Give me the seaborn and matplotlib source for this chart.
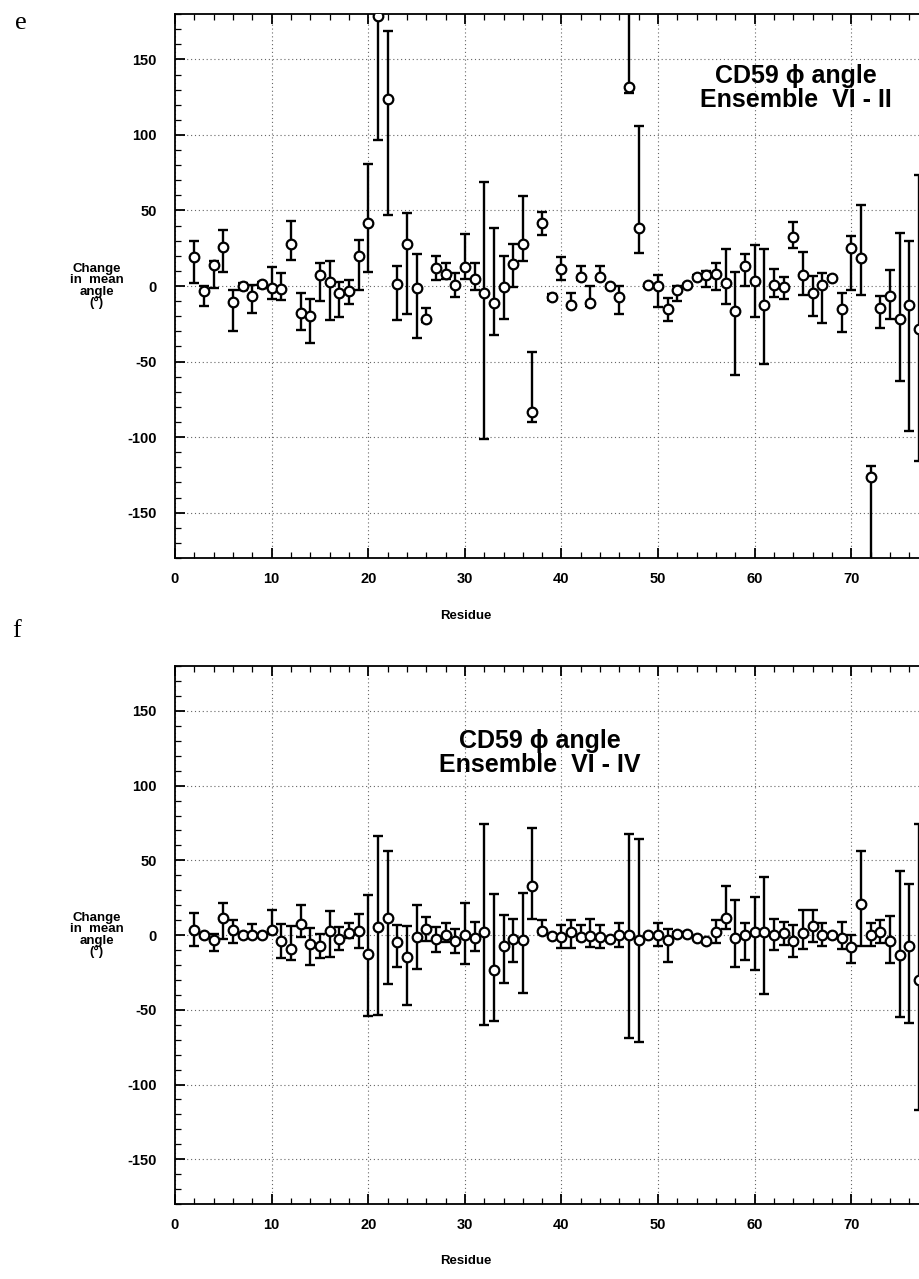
import numpy as np
import pandas as pd
import matplotlib
matplotlib.use("Agg")
import matplotlib.pyplot as plt
import seaborn as sns

# ---------------- data ----------------
residues = list(range(2, 78))

# Panel e : Ensemble VI - II  (value, bar bottom, bar top)
e_val = [19, -3, 14, 26, -10.6, -0.2, -6.9, 1.1, -1.1, -2, 27.7, -17.9, -19.5, 7.1, 2.7,
         -4.7, -3.5, 19.9, 41.9, 178.5, 123.6, 1.6, 27.7, -1.1, -22, 12, 7.8, 0.4, 12.6,
         4.4, -4.4, -11.3, -0.7, 14.4, 27.5, -83.1, 41.9, -7.3, 11.5, -12.4, 6, -11.3, 6,
         -0.2, -7.3, 132, 38.3, 0.7, 0, -15.3, -2.7, 0.4, 6.2, 7.3, 8, 2.2, -16.6, 13.5,
         3.5, -12.6, 0.7, -0.9, 32.3, 7.3, -4.4, 0.7, 5.5, -15.5, 25, 18.4, -126.7, -14.4,
         -6.6, -21.5, -12.6, -28.1]
e_low = [2.3, -13.5, -1, 9.3, -29.9, -2.5, -17.7, -1, -8.4, -9.5, 17.1, -28.8, -37.9, -10,
         -22.8, -20.6, -11.7, -2.4, 9.4, 96.6, 47.2, -22.4, -18.8, -34.6, -24, 4.2, 4.7,
         -7.3, 4.7, -2.9, -101.3, -32.1, -21.7, -0.7, 16.4, -89.9, 34.1, -9, 3.8, -13.5,
         3.8, -13.5, 3.8, -1.5, -18.4, 128, 21.7, -0.5, -13.7, -23, -10, -0.5, 5, -0.4,
         -2.7, -12, -59.1, 0, -20.8, -51.4, -7.1, -8.9, 25, -6, -19.9, -24.4, 4.5, -30.3,
         -2.7, -6, -200, -27.7, -21.5, -63.1, -95.7, -115.6]
e_high = [30, 0, 16.5, 37, -2.9, 2, 0.4, 3, 12.6, 8.6, 43.2, -4.7, -8.4, 15.3, 16.4, 2.7,
          3.8, 30.8, 80.9, 200, 169, 13.1, 48.5, 21, -14.6, 19.7, 15.3, 8.6, 34.3, 15.3,
          68.6, 38.5, 19.7, 28.1, 59.3, -43.9, 49.2, -5.5, 19.3, -4.7, 13.1, -0.2, 13, 1,
          0, 200, 105.9, 1.5, 7.3, -8.2, 0, 1.5, 7.5, 10.2, 15.5, 24.4, 9.5, 21.3, 27.2,
          24.4, 11.3, 6.2, 42.7, 22.8, 6.6, 8.9, 6.5, -4.4, 33.2, 53.8, -118.9, -6.4, 10.6,
          35, 29.5, 73.8]

# Panel f : Ensemble VI - IV  (value, bar bottom, bar top)
f_val = [3.3, 0, -3.3, 11.1, 3.1, 0, 0, 0, 3.1, -4, -9.6, 7.1, -6.2, -7.3, 2.7, -2.4, 1.1,
         2.7, -12.4, 5.6, 11.6, -4.7, -14.5, -1, 4.4, -2.9, 0, -4, 0, -2.2, 1.8, -23.5,
         -7.5, -2.5, -3.4, 32.7, 2.9, -0.4, -1.1, 1.8, -1.1, -0.4, -1.1, -2.9, 0, 0, -3.1,
         0, 0, -3.6, 0.9, 0.9, -1.8, -4, 2, 11.1, -1.8, 0, 2.2, 2.2, 0, 1.1, -4, 1.1, 6, 0,
         0, -2.2, -8, 20.9, 0, 2, -4, -13.3, -7.4, -30.2]
f_low = [-7.3, -1, -10.7, -2.9, -5.1, -1, -1, -1, 0.4, -15.1, -16.9, -1.3, -20, -15.1,
         -14.4, -10.2, -1.8, -8.4, -53.9, -53.3, -32.9, -21.5, -47.1, -23, -3.8, -11.6,
         -4.4, -12.3, -19.3, -10.5, -60.3, -57.2, -32, -17.8, -39, 10.7, 1.1, -1.5, -8.9,
         -8.9, -3.3, -7.8, -8.9, -4, -7.8, -68.6, -71.3, -1, -7.3, -17.8, 0, 0, -2.8, -5,
         -5.6, 3.8, -21.5, -16.4, -23.7, -39.5, -10, -6.7, -14.7, -9.6, -4.4, -7.3, -1,
         -9.6, -18.9, -7.3, -7.3, -5.6, -18.9, -54.8, -58.8, -117]
f_high = [14.9, 1, 0.4, 21.6, 10.4, 1, 7.6, 1, 16.7, 7.1, 6, 20.4, 4.9, 0.4, 16, 5.3, 8.2,
          13.8, 27.1, 66, 56.4, 6.7, 6, 20.4, 11.8, 5.1, 7.8, 3.8, 21.6, 8.9, 74.4, 27.3,
          13.3, 10.7, 28.4, 71.8, 10.4, 0.8, 6.7, 10, 6.7, 10.7, 6.7, -1.8, 7.8, 67.8, 64.4,
          1, 8.2, 3.8, 1.8, 1.8, -0.8, -3, 10, 32.7, 23.8, 8.2, 25.6, 38.9, 10.9, 8.9, 6.7,
          16.7, 16.7, 7.8, 1, 8.9, 0, 56, 7.8, 10, 13.1, 43.1, 34.4, 74.2]

titles = ["CD59 \u03d5 angle\nEnsemble  VI - II", "CD59 \u03d5 angle\nEnsemble  VI - IV"]
panel_letters = ["e", "f"]
y_label = "Change\nin  mean\nangle\n(\u00b0)"
x_label = "Residue"

# ---------------- style ----------------
sns.set_theme(style="ticks")
plt.rcParams["font.family"] = ["Liberation Sans", "DejaVu Sans"]
plt.rcParams["font.weight"] = "bold"
plt.rcParams["axes.unicode_minus"] = False
for key in ["text.color", "axes.labelcolor", "xtick.color", "ytick.color",
            "axes.edgecolor"]:
    plt.rcParams[key] = "black"

fig = plt.figure(figsize=(9.19, 12.79), dpi=100)
ax_e = fig.add_axes([0.1904, 0.5637, 0.8096, 0.4253])
ax_f = fig.add_axes([0.1904, 0.0586, 0.8096, 0.4206])

panels = [
    (ax_e, e_val, e_low, e_high, titles[0], (0.835, 0.864)),
    (ax_f, f_val, f_low, f_high, titles[1], (0.49, 0.838)),
]

for ax, val, low, high, title, tpos in panels:
    df = pd.DataFrame({"residue": residues, "change": val, "low": low, "high": high})
    yerr = np.vstack([df["change"] - df["low"], df["high"] - df["change"]])
    ax.errorbar(df["residue"], df["change"], yerr=yerr, fmt="none", ecolor="black",
                elinewidth=1.7, capsize=3.5, capthick=1.7, zorder=2)
    sns.scatterplot(data=df, x="residue", y="change", ax=ax, marker="o", s=48,
                    color="white", edgecolor="black", linewidth=1.6, zorder=3,
                    legend=False)

    ax.set_xlim(0, 77)
    ax.set_ylim(-180, 180)
    ax.set_xticks(np.arange(0, 71, 10))
    ax.set_xticks(np.arange(0, 78, 2), minor=True)
    ax.set_yticks(np.arange(-150, 151, 50))
    ax.set_yticks(np.arange(-180, 181, 10), minor=True)
    ax.grid(True, which="major", linestyle=(0, (1, 2.5)), color="0.4", linewidth=0.8)
    ax.set_axisbelow(True)

    for side in ["left", "top", "bottom"]:
        ax.spines[side].set_color("black")
        ax.spines[side].set_linewidth(1.3)
    ax.spines["right"].set_visible(False)

    ax.tick_params(which="both", direction="in", top=True, bottom=True, left=True,
                   right=False, colors="black")
    ax.tick_params(which="major", length=7, width=1.3)
    ax.tick_params(which="minor", length=4, width=0.9)
    ax.tick_params(axis="y", which="major", pad=13, labelsize=10.5)
    ax.tick_params(axis="x", which="major", pad=10, labelsize=10.5)
    for lab in ax.get_xticklabels() + ax.get_yticklabels():
        lab.set_fontweight("bold")

    ax.set_xlabel("")
    ax.set_ylabel("")
    ax.text(0.391, -0.106, x_label, transform=ax.transAxes, ha="center", va="center",
            fontsize=9.5, fontweight="bold")
    ax.text(-0.105, 0.0, y_label, transform=ax.get_yaxis_transform(), ha="center",
            va="center", fontsize=9.5, fontweight="bold", linespacing=0.95)
    ax.text(tpos[0], tpos[1], title, transform=ax.transAxes, ha="center", va="center",
            fontsize=18, fontweight="bold", linespacing=1.0)

fig.text(0.016, 0.982, panel_letters[0], ha="left", va="center", fontsize=19,
         family=["Liberation Serif", "DejaVu Serif"], fontweight="normal")
fig.text(0.013, 0.507, panel_letters[1], ha="left", va="center", fontsize=19,
         family=["Liberation Serif", "DejaVu Serif"], fontweight="normal")

fig.savefig("out.png", dpi=100, facecolor="white")
